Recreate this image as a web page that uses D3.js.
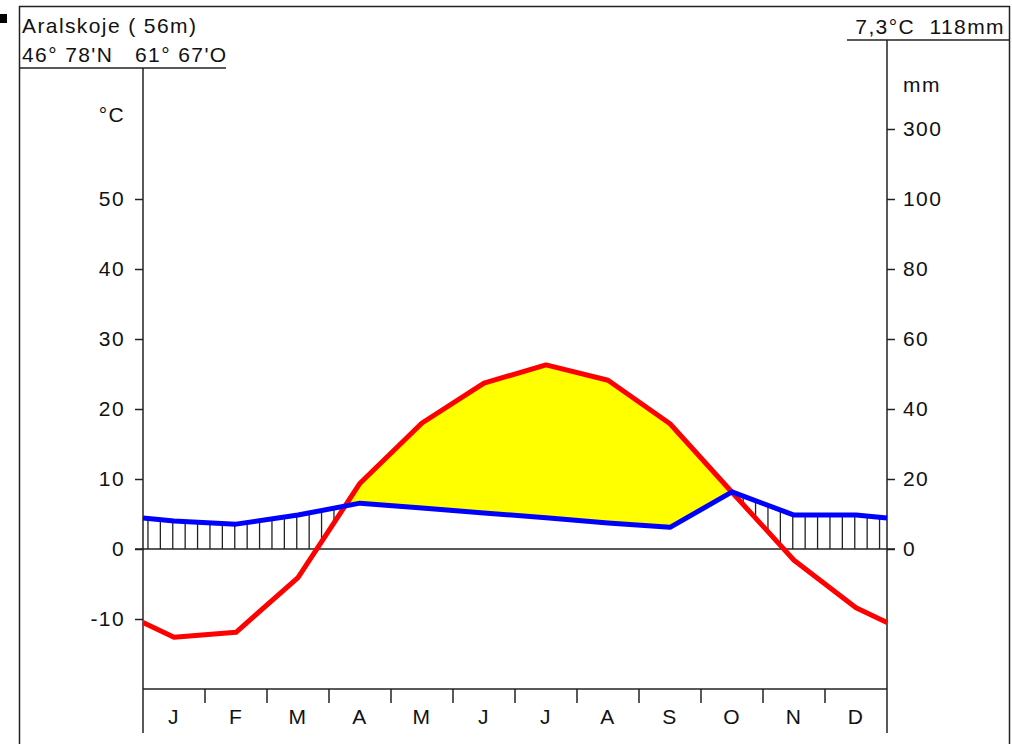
<!DOCTYPE html>
<html>
<head>
<meta charset="utf-8">
<script src="https://cdn.jsdelivr.net/npm/d3@7"></script>
<style>
  body { margin: 0; background: #fff; }
  text { font-family: "Liberation Sans", Arial, sans-serif; font-size: 21px; fill: #111; letter-spacing: 1.4px; white-space: pre; }
</style>
</head>
<body>
<svg id="chart" width="1012" height="744"></svg>
<script>
const months = ["J", "F", "M", "A", "M", "J", "J", "A", "S", "O", "N", "D"];
const temperature = [-12.6, -11.9, -4.1, 9.4, 18.0, 23.7, 26.3, 24.1, 17.9, 8.1, -1.6, -8.4];
const precipitation = [8.0, 7.1, 9.7, 13.1, 11.7, 10.3, 8.9, 7.4, 6.2, 16.3, 9.7, 9.7];
const tempTicks = [-10, 0, 10, 20, 30, 40, 50];
const precTicks = [0, 20, 40, 60, 80, 100, 300];
const station = "Aralskoje ( 56m)";
const coords = "46° 78'N   61° 67'O";
const summary = "7,3°C  118mm";

const svg = d3.select("#chart");

const left = 143, right = 887;
const x = d3.scaleLinear().domain([0, 12]).range([left, right]);
const yT = d3.scaleLinear().domain([-20, 50]).range([689, 199]);
// precipitation: 20 mm = 10 °C up to 100 mm, compressed above
const yP = d3.scaleLinear().domain([0, 100, 300]).range([yT(0), yT(50), yT(60)]);

// series with edge points at the frame (mean of Dec and Jan)
function extend(vals) {
  const edge = (vals[0] + vals[11]) / 2;
  return [edge].concat(vals, [edge]);
}
const xs = [0].concat(months.map((m, i) => i + 0.5), [12]);
const tExt = extend(temperature);
const pExt = extend(precipitation);
const pts = xs.map((v, i) => ({ x: v, t: tExt[i], p: pExt[i] }));

const tLine = d3.line().x(d => x(d.x)).y(d => yT(d.t));
const pLine = d3.line().x(d => x(d.x)).y(d => yP(d.p));

// frame
svg.append("rect").attr("x", 0).attr("y", 14).attr("width", 7).attr("height", 9).attr("fill", "#000");
svg.append("path")
  .attr("d", "M19.5,744 V6.5 H1009.5 V744")
  .attr("fill", "none").attr("stroke", "#222").attr("stroke-width", 1.5);
svg.append("line").attr("x1", 19).attr("x2", 226).attr("y1", 68).attr("y2", 68)
  .attr("stroke", "#222").attr("stroke-width", 1.5);
svg.append("line").attr("x1", 847).attr("x2", 1009).attr("y1", 40).attr("y2", 40)
  .attr("stroke", "#222").attr("stroke-width", 1.5);

svg.append("text").attr("x", 22).attr("y", 33).text(station);
svg.append("text").attr("x", 22).attr("y", 62).text(coords);
svg.append("text").attr("x", 1005).attr("y", 34).attr("text-anchor", "end").text(summary);

// arid area: below temperature, above precipitation
const defs = svg.append("defs");
defs.append("clipPath").attr("id", "abovePrec")
  .append("path")
  .datum(pts)
  .attr("d", d3.area().x(d => x(d.x)).y0(0).y1(d => yP(d.p)));
svg.append("path")
  .datum(pts)
  .attr("clip-path", "url(#abovePrec)")
  .attr("fill", "#ffff00")
  .attr("d", d3.area().x(d => x(d.x)).y0(yT(-20)).y1(d => yT(d.t)));

// humid hatching
const tAt = d3.scaleLinear().domain(xs).range(tExt);
const pAt = d3.scaleLinear().domain(xs).range(pExt);
const hatchX = d3.range(0.08, 12, 0.2);
svg.append("g").selectAll("line")
  .data(hatchX.filter(h => pAt(h) / 2 > tAt(h)))
  .join("line")
  .attr("x1", h => x(h)).attr("x2", h => x(h))
  .attr("y1", h => yP(pAt(h)))
  .attr("y2", h => yT(Math.max(tAt(h), 0)))
  .attr("stroke", "#222").attr("stroke-width", 1.3);

// zero line
svg.append("line").attr("x1", left - 8).attr("x2", right + 8)
  .attr("y1", yT(0)).attr("y2", yT(0)).attr("stroke", "#222").attr("stroke-width", 1.5);

// axes
const gl = svg.append("g").attr("transform", `translate(${left},0)`)
  .call(d3.axisLeft(yT).tickValues(tempTicks).tickFormat(d => String(d))
    .tickSize(8).tickPadding(10).tickSizeOuter(0));
const gr = svg.append("g").attr("transform", `translate(${right},0)`)
  .call(d3.axisRight(yP).tickValues(precTicks).tickFormat(d => String(d))
    .tickSize(8).tickPadding(8).tickSizeOuter(0));
[gl, gr].forEach(g => {
  g.select(".domain").remove();
  g.selectAll("line").attr("stroke", "#222").attr("stroke-width", 1.5);
  g.selectAll("text").attr("fill", "#111");
  g.attr("font-size", null).attr("font-family", null);
});
svg.append("line").attr("x1", left).attr("x2", left).attr("y1", 68).attr("y2", 733)
  .attr("stroke", "#222").attr("stroke-width", 1.5);
svg.append("line").attr("x1", right).attr("x2", right).attr("y1", 40).attr("y2", 733)
  .attr("stroke", "#222").attr("stroke-width", 1.5);
svg.append("text").attr("x", 125).attr("y", 122).attr("text-anchor", "end").text("°C");
svg.append("text").attr("x", 903).attr("y", 92).text("mm");

// month axis
const yB = yT(-20);
svg.append("line").attr("x1", left).attr("x2", right).attr("y1", yB).attr("y2", yB)
  .attr("stroke", "#222").attr("stroke-width", 1.5);
svg.append("g").selectAll("line").data(d3.range(1, 12)).join("line")
  .attr("x1", d => x(d)).attr("x2", d => x(d)).attr("y1", yB).attr("y2", yB + 14)
  .attr("stroke", "#222").attr("stroke-width", 1.5);
svg.append("g").selectAll("text").data(months).join("text")
  .attr("x", (d, i) => x(i + 0.5)).attr("y", 724).attr("text-anchor", "middle")
  .text(d => d);

// curves
svg.append("path").datum(pts).attr("d", tLine)
  .attr("fill", "none").attr("stroke", "#ff0000").attr("stroke-width", 5).attr("stroke-linejoin", "round");
svg.append("path").datum(pts).attr("d", pLine)
  .attr("fill", "none").attr("stroke", "#0000ff").attr("stroke-width", 5).attr("stroke-linejoin", "round");
</script>
</body>
</html>
